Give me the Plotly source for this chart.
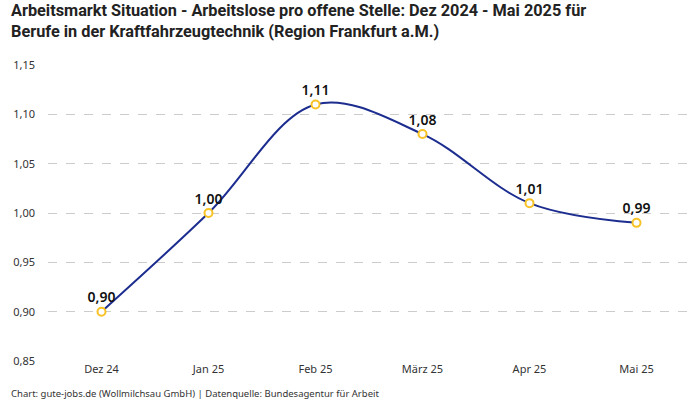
import plotly.graph_objects as go

months = ["Dez 24", "Jan 25", "Feb 25", "März 25", "Apr 25", "Mai 25"]
values = [0.90, 1.00, 1.11, 1.08, 1.01, 0.99]
labels = ["0,90", "1,00", "1,11", "1,08", "1,01", "0,99"]
y_ticks = [0.85, 0.90, 0.95, 1.00, 1.05, 1.10, 1.15]
y_tick_text = ["0,85", "0,90", "0,95", "1,00", "1,05", "1,10", "1,15"]

fig = go.Figure()
fig.add_trace(go.Scatter(
    x=months, y=values,
    mode="lines+markers+text",
    line=dict(color="#1c2d8f", width=2, shape="spline", smoothing=1.0),
    marker=dict(size=8, color="white", line=dict(color="#f7c325", width=2)),
    text=labels, textposition="top center",
    textfont=dict(family="Noto Sans", size=14, color="#111111", weight=600),
    cliponaxis=False,
    hoverinfo="skip",
))

PLOT_H = 296.0
def py(pix):
    # convert pixel y (from top of 400px figure) to paper y
    return (361.0 - pix) / PLOT_H

fig.update_layout(
    width=700, height=400,
    margin=dict(l=48, r=10, t=65, b=39, autoexpand=False),
    paper_bgcolor="white", plot_bgcolor="white",
    showlegend=False,
    separators=",.",
    xaxis=dict(
        type="category", range=[-0.5, 5.5], automargin=False,
        showgrid=False, showline=False, zeroline=False,
        ticks="", tickfont=dict(family="Noto Sans", size=11, color="#333333"),
    ),
    yaxis=dict(
        range=[0.85, 1.15], tickvals=y_ticks, ticktext=y_tick_text, automargin=False,
        showgrid=True, gridcolor="#cccccc", griddash="dash", gridwidth=1,
        zeroline=False, showline=False, ticks="",
        tickfont=dict(family="Noto Sans", size=11, color="#333333"),
        ticklabelstandoff=12,
    ),
    annotations=[
        dict(
            text="<b>Arbeitsmarkt Situation - Arbeitslose pro offene Stelle: Dez 2024 - Mai 2025 für<br>Berufe in der Kraftfahrzeugtechnik (Region Frankfurt a.M.)</b>",
            xref="paper", yref="paper", x=-40/652, y=py(-1), xanchor="left", yanchor="top",
            align="left", showarrow=False,
            font=dict(family="Roboto, sans-serif", size=16.3, color="#222222"),
        ),
        dict(
            text="Chart: gute-jobs.de (Wollmilchsau GmbH) | Datenquelle: Bundesagentur für Arbeit",
            xref="paper", yref="paper", x=-40/652, y=py(393), xanchor="left", yanchor="middle",
            showarrow=False, font=dict(family="Noto Sans", size=9.5, color="#333333"),
        ),
    ],
)

fig.write_html("out.html", config={"displayModeBar": False},
               post_script="document.body.style.margin='0';document.body.style.padding='0';")
